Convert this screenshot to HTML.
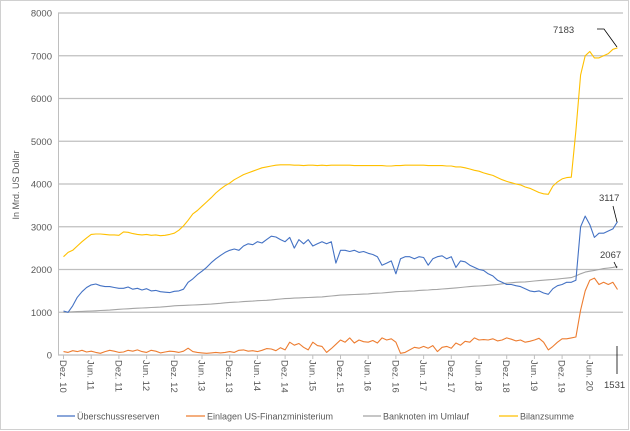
<!DOCTYPE html>
<html><head><meta charset="utf-8"><style>
body{margin:0;background:#fff;}
svg{display:block;font-family:"Liberation Sans",Arial,sans-serif;}
</style></head><body>
<svg id="chart" width="630" height="431" viewBox="0 0 630 431" xmlns="http://www.w3.org/2000/svg">
<rect x="0.5" y="0.5" width="628" height="429" fill="#fff" stroke="#d0d0d0"/>
<g id="grid"></g>
<g id="yticks"></g>
<g id="xticks"></g>
<g id="series"></g>
<text transform="translate(19,185) rotate(-90)" text-anchor="middle" font-size="9" fill="#595959">In Mrd. US Dollar</text>
<g font-size="9.5" fill="#404040">
<text x="553" y="33">7183</text>
<polyline points="597,29 604,29 617,47" fill="none" stroke="#000" stroke-width="0.8"/>
<text x="599" y="201">3117</text>
<polyline points="613,206 617,222" fill="none" stroke="#000" stroke-width="0.8"/>
<text x="600" y="258">2067</text>
<polyline points="614,262 617,268" fill="none" stroke="#000" stroke-width="0.8"/>
<text x="604" y="388">1531</text>
<polyline points="617,346 617,374" fill="none" stroke="#000" stroke-width="0.8"/>
</g>
<g font-size="9" fill="#595959">
<line x1="57" y1="416" x2="75" y2="416" stroke="#4472c4" stroke-width="1.2"/>
<text x="77" y="419.5">Überschussreserven</text>
<line x1="186" y1="416" x2="205" y2="416" stroke="#ed7d31" stroke-width="1.2"/>
<text x="207" y="419.5">Einlagen  US-Finanzministerium</text>
<line x1="363" y1="416" x2="381" y2="416" stroke="#a5a5a5" stroke-width="1.2"/>
<text x="383" y="419.5">Banknoten im Umlauf</text>
<line x1="499" y1="416" x2="518" y2="416" stroke="#ffc000" stroke-width="1.2"/>
<text x="520" y="419.5">Bilanzsumme</text>
</g>
</svg>
<script>
const yTicks = [0,1000,2000,3000,4000,5000,6000,7000,8000];
const xLabels = ["Dez. 10","Jun. 11","Dez. 11","Jun. 12","Dez. 12","Jun. 13","Dez. 13","Jun. 14","Dez. 14","Jun. 15","Dez. 15","Jun. 16","Dez. 16","Jun. 17","Dez. 17","Jun. 18","Dez. 18","Jun. 19","Dez. 19","Jun. 20"];
// monthly, Dec 2010 .. Dec 2020
const reserves = [1030,
1000,1150,1350,1480,1580,1640,1660,1620,1600,1600,1580,1560,
1560,1590,1540,1560,1520,1550,1500,1510,1480,1470,1460,1490,
1500,1540,1700,1780,1880,1960,2050,2160,2250,2330,2400,2450,
2480,2450,2550,2600,2580,2650,2620,2700,2780,2760,2700,2650,
2750,2500,2700,2600,2700,2550,2600,2650,2600,2650,2150,2450,
2450,2420,2450,2400,2420,2380,2350,2300,2100,2150,2200,1900,
2250,2300,2300,2250,2300,2280,2100,2250,2300,2320,2250,2300,
2050,2200,2180,2100,2050,2000,1980,1900,1850,1750,1700,1650,
1650,1620,1600,1550,1500,1480,1500,1450,1420,1550,1620,1650,
1700,1700,1750,3000,3250,3050,2750,2850,2850,2900,2950,3117];
const treasury = [80,
60,100,80,110,70,90,60,40,80,110,90,60,
70,110,90,120,80,60,110,90,50,70,90,80,
60,90,160,80,60,50,40,50,60,50,60,80,
60,110,120,90,100,80,110,150,140,100,170,120,
300,230,270,180,120,300,220,200,60,150,250,350,
300,400,280,350,310,300,340,280,400,350,380,300,
40,60,120,180,160,200,160,220,80,180,200,160,
280,230,320,300,400,350,360,350,380,330,350,400,
370,330,350,300,320,350,390,300,120,200,300,380,
380,400,420,1050,1500,1750,1800,1650,1700,1650,1700,1531];
const banknotes = [1000,
1005,1010,1015,1020,1025,1030,1035,1040,1045,1050,1060,1070,
1075,1080,1090,1095,1100,1105,1110,1115,1120,1130,1140,1150,
1155,1160,1165,1170,1175,1180,1185,1190,1200,1210,1220,1230,
1235,1240,1250,1255,1260,1270,1275,1280,1290,1300,1310,1320,
1325,1330,1335,1340,1345,1350,1355,1360,1370,1380,1390,1400,
1405,1410,1415,1420,1425,1430,1440,1445,1450,1460,1470,1480,
1485,1490,1495,1500,1510,1515,1520,1530,1535,1545,1550,1560,
1570,1580,1590,1600,1610,1615,1620,1630,1640,1650,1665,1680,
1690,1700,1705,1710,1720,1730,1740,1750,1760,1765,1775,1790,
1800,1810,1850,1900,1940,1960,1980,2000,2020,2035,2050,2067];
const balance = [2300,
2400,2450,2550,2650,2740,2820,2830,2830,2820,2810,2810,2800,
2880,2870,2840,2820,2810,2820,2800,2810,2790,2800,2820,2850,
2920,3020,3150,3300,3380,3480,3580,3680,3790,3880,3960,4020,
4100,4160,4220,4260,4300,4340,4380,4400,4420,4440,4450,4450,
4450,4440,4440,4430,4440,4440,4430,4440,4430,4440,4440,4440,
4440,4440,4430,4430,4430,4430,4430,4430,4430,4420,4420,4430,
4430,4440,4440,4440,4440,4440,4430,4430,4430,4430,4420,4420,
4400,4400,4380,4350,4320,4300,4260,4230,4200,4150,4100,4060,
4030,4000,3980,3930,3900,3850,3800,3770,3760,3950,4050,4120,
4150,4160,5250,6550,7000,7100,6950,6950,7000,7050,7150,7183];

const NS="http://www.w3.org/2000/svg";
const X0=63.5, PX_PER_MONTH=27.7/6, Y0=355, PX_PER_UNIT=342/8000;
function xScale(m){return X0+m*PX_PER_MONTH;}
function yScale(v){return Y0-v*PX_PER_UNIT;}
function mk(tag,attrs,parent){const e=document.createElementNS(NS,tag);for(const k in attrs)e.setAttribute(k,attrs[k]);parent.appendChild(e);return e;}

const grid=document.getElementById('grid'), yt=document.getElementById('yticks'), xt=document.getElementById('xticks'), ser=document.getElementById('series');
yTicks.forEach(v=>{
  const y=yScale(v);
  if(v>0){const g=mk('line',{x1:58,x2:623,y1:y,y2:y,stroke:'#bfbfbf','stroke-width':1.3},grid);
  
  }
  const t=mk('text',{x:52,y:y+3.5,'text-anchor':'end','font-size':9.5,fill:'#595959'},yt);
  
  
  t.textContent=v;
});
const ax=mk('line',{x1:58,x2:623,y1:Y0,y2:Y0,stroke:'#bfbfbf','stroke-width':1.3},grid);


const ay=mk('line',{x1:58.5,x2:58.5,y1:13,y2:Y0,stroke:'#bfbfbf','stroke-width':1},grid);


xLabels.forEach((lab,i)=>{
  const x=xScale(i*6);
  const tk=mk('line',{x1:x,x2:x,y1:Y0,y2:Y0+4,stroke:'#bfbfbf'},xt);
  
  
  const t=mk('text',{transform:`translate(${x-3.5},${Y0+5}) rotate(90)`,'font-size':9.5,fill:'#595959'},xt);
  
  
  t.textContent=lab;
});
function line(arr,color,name){
  const pts=arr.map((v,i)=>xScale(i).toFixed(1)+','+yScale(v).toFixed(1)).join(' ');
  const p=mk('polyline',{points:pts,fill:'none',stroke:color,'stroke-width':1.1,'stroke-linejoin':'round'},ser);
  
  
}
line(banknotes,'#a5a5a5','line-banknotes');
line(treasury,'#ed7d31','line-treasury');
line(reserves,'#4472c4','line-reserves');
line(balance,'#ffc000','line-balance');
</script>
</body></html>
